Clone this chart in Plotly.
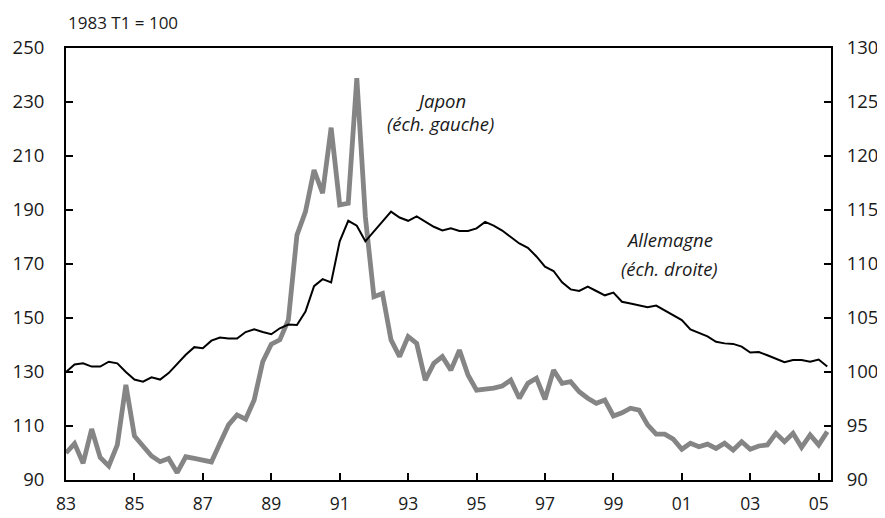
import plotly.graph_objects as go

# Quarterly index, 1983 Q1 = 100
QUARTERS = [1983 + i * 0.25 for i in range(90)]

# Japan (left scale)
JAPON = [
    100.0, 103.5, 96.2, 108.9, 98.3, 95.2, 103.0, 125.2, 106.3, 102.3,
    98.9, 96.8, 98.0, 92.7, 98.6, 98.0, 97.2, 96.7, 103.6, 110.4,
    114.1, 112.5, 119.6, 133.8, 140.3, 141.9, 149.3, 180.7, 189.4, 204.8,
    196.2, 220.5, 191.9, 192.5, 238.8, 187.5, 157.9, 159.1, 141.9, 135.7,
    143.1, 140.6, 127.0, 133.2, 135.7, 130.7, 138.1, 128.9, 123.3, 123.6,
    124.0, 124.8, 127.0, 120.3, 125.8, 127.7, 119.9, 130.7, 125.8, 126.4,
    122.7, 120.3, 118.4, 119.6, 113.7, 114.9, 116.6, 115.9, 110.4, 107.0,
    107.0, 105.1, 101.4, 103.6, 102.3, 103.3, 101.7, 103.6, 101.1, 104.2,
    101.4, 102.6, 103.0, 107.3, 104.2, 107.3, 102.1, 106.7, 103.0, 107.9,
]

# Germany (right scale)
ALLEMAGNE = [
    100.0, 100.7, 100.8, 100.5, 100.5, 100.95, 100.8, 100.0, 99.3, 99.1,
    99.5, 99.3, 99.9, 100.8, 101.6, 102.3, 102.2, 102.9, 103.2, 103.1,
    103.1, 103.7, 103.95, 103.7, 103.5, 104.05, 104.4, 104.35, 105.6, 107.95,
    108.6, 108.3, 112.1, 114.0, 113.55, 112.1, 113.0, 113.9, 114.85, 114.3,
    114.0, 114.4, 113.9, 113.45, 113.1, 113.3, 113.05, 113.05, 113.3, 113.9,
    113.55, 113.1, 112.5, 111.9, 111.5, 110.7, 109.75, 109.35, 108.3, 107.65,
    107.5, 107.9, 107.5, 107.1, 107.35, 106.5, 106.35, 106.2, 106.0, 106.15,
    105.7, 105.3, 104.8, 103.95, 103.65, 103.3, 102.8, 102.65, 102.6, 102.35,
    101.8, 101.85, 101.55, 101.25, 100.9, 101.1, 101.1, 100.95, 101.15, 100.5,
]

X_TICKS = [1983, 1985, 1987, 1989, 1991, 1993, 1995, 1997, 1999, 2001, 2003, 2005]
X_LABELS = ["83", "85", "87", "89", "91", "93", "95", "97", "99", "01", "03", "05"]

FONT = "'Open Sans', Lato, sans-serif"
AXIS_COLOR = "#000000"
TEXT_COLOR = "#1a1a1a"
SIZE = 18.5

fig = go.Figure()

fig.add_trace(go.Scatter(
    x=QUARTERS, y=JAPON,
    mode="lines",
    name="Japon",
    line=dict(color="#858585", width=4.8),
    yaxis="y",
))

fig.add_trace(go.Scatter(
    x=QUARTERS, y=ALLEMAGNE,
    mode="lines",
    name="Allemagne",
    line=dict(color="#000000", width=2),
    yaxis="y2",
))

# Series labels (one annotation per line to control spacing)
labels = [
    (1993.96, 230.7, "Japon"),
    (1993.96, 221.9, "(éch. gauche)"),
    (2000.63, 178.9, "Allemagne"),
    (2000.63, 168.5, "(éch. droite)"),
]
for x, y, txt in labels:
    fig.add_annotation(
        x=x, y=y, xref="x", yref="y",
        text=f"<i>{txt}</i>",
        showarrow=False,
        font=dict(family=FONT, size=SIZE, color=TEXT_COLOR),
    )

# Base note
fig.add_annotation(
    x=0, y=1, xref="paper", yref="paper",
    xanchor="left", yanchor="middle", yshift=26,
    text="1983 T1 = 100",
    showarrow=False,
    font=dict(family=FONT, size=17, color=TEXT_COLOR),
)

axis_common = dict(
    ticks="inside",
    ticklen=7,
    tickwidth=2,
    tickcolor=AXIS_COLOR,
    showline=True,
    linecolor=AXIS_COLOR,
    linewidth=2,
    showgrid=False,
    zeroline=False,
    automargin=False,
    tickfont=dict(family=FONT, size=SIZE, color=TEXT_COLOR),
)

# page body keeps an 8px default margin, so margins are shifted by 8px
fig.update_layout(
    width=885,
    height=518,
    margin=dict(l=58, r=62, t=40, b=46),
    paper_bgcolor="white",
    plot_bgcolor="white",
    showlegend=False,
    font=dict(family=FONT, color=TEXT_COLOR),
    xaxis=dict(
        range=[1983, 2005.36],
        tickmode="array",
        tickvals=X_TICKS,
        ticktext=X_LABELS,
        mirror=True,
        ticklabelstandoff=7,
        **{**axis_common, "tickfont": dict(family=FONT, size=17.5, color=TEXT_COLOR)},
    ),
    yaxis=dict(
        range=[90, 250],
        tickmode="linear",
        tick0=90,
        dtick=20,
        ticklabelstandoff=16,
        **axis_common,
    ),
    yaxis2=dict(
        range=[90, 130],
        tickmode="linear",
        tick0=90,
        dtick=5,
        overlaying="y",
        side="right",
        ticklabelstandoff=10,
        **axis_common,
    ),
)

fig.write_html("out.html")
